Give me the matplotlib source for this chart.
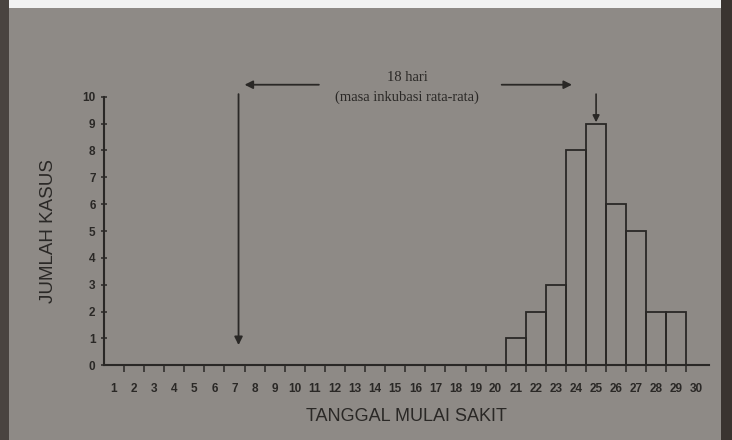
import matplotlib.pyplot as plt
import numpy as np
from matplotlib.patches import Rectangle

# data
days = list(range(1, 31))
case_days = [21, 22, 23, 24, 25, 26, 27, 28, 29]
case_counts = [1, 2, 3, 8, 9, 6, 5, 2, 2]
y_ticks = list(range(0, 11))
exposure_day = 7
peak_day = 25

paper = '#8e8a86'
ink = '#2a2826'

fig = plt.figure(figsize=(7.32, 4.4), dpi=100, facecolor=paper)

# page edges of the photo
fig.patches.append(Rectangle((0, 0.982), 1, 0.02, transform=fig.transFigure,
                             facecolor='#f2f2f2', edgecolor='none'))
fig.patches.append(Rectangle((0, 0), 0.012, 1, transform=fig.transFigure,
                             facecolor='#4a4440', edgecolor='none'))
fig.patches.append(Rectangle((0.985, 0), 0.015, 1, transform=fig.transFigure,
                             facecolor='#3a3430', edgecolor='none'))

ax = fig.add_axes([0.142, 0.17, 0.826, 0.61])
ax.set_facecolor(paper)

# histogram bars
ax.bar(case_days, case_counts, width=1.0, facecolor='none', edgecolor=ink, linewidth=1.3)

ax.set_xlim(0.5, 30.6)
ax.set_ylim(0, 10)
for s in ['top', 'right']:
    ax.spines[s].set_visible(False)
for s in ['left', 'bottom']:
    ax.spines[s].set_color(ink)
    ax.spines[s].set_linewidth(1.5)

# x labels in the middle of each day, ticks on the day borders
ax.set_xticks(days)
ax.set_xticklabels([str(d) for d in days], fontsize=8.5, fontweight='bold', color=ink,
                   family='Liberation Sans')
ax.tick_params(axis='x', which='major', length=0, pad=13)
ax.set_xticks(np.arange(1.5, 30.5, 1.0), minor=True)
ax.tick_params(axis='x', which='minor', length=5, width=1.1, color=ink, direction='out')

ax.set_yticks(y_ticks)
ax.set_yticklabels([str(v) for v in y_ticks], fontsize=8.5, fontweight='bold', color=ink,
                   family='Liberation Sans')
ax.tick_params(axis='y', length=4, width=1.1, color=ink, direction='inout', pad=4)

ax.set_xlabel('TANGGAL MULAI SAKIT', fontsize=13, color=ink, family='Liberation Sans', labelpad=9)
ax.set_ylabel('JUMLAH KASUS', fontsize=13.5, color=ink, family='Liberation Sans', labelpad=18)

# incubation annotation
ax.text(15.6, 10.72, '18 hari', ha='center', va='center', fontsize=10.5,
        family='Liberation Serif', color=ink, clip_on=False)
ax.text(15.6, 9.98, '(masa inkubasi rata-rata)', ha='center', va='center', fontsize=10.5,
        family='Liberation Serif', color=ink, clip_on=False)

arrow = dict(arrowstyle='-|>', color=ink, lw=1.3, mutation_scale=12, shrinkA=0, shrinkB=0)
ax.annotate('', xy=(exposure_day + 0.5, 10.45), xytext=(11.2, 10.45),
            arrowprops=arrow, annotation_clip=False)
ax.annotate('', xy=(23.8, 10.45), xytext=(20.3, 10.45),
            arrowprops=arrow, annotation_clip=False)
ax.annotate('', xy=(exposure_day + 0.2, 0.75), xytext=(exposure_day + 0.2, 10.1),
            arrowprops=arrow, annotation_clip=False)
ax.annotate('', xy=(peak_day, 9.05), xytext=(peak_day, 10.1),
            arrowprops=dict(arrowstyle='-|>', color=ink, lw=1.2, mutation_scale=10,
                            shrinkA=0, shrinkB=0), annotation_clip=False)

fig.savefig('out.png', dpi=100, facecolor=paper)
